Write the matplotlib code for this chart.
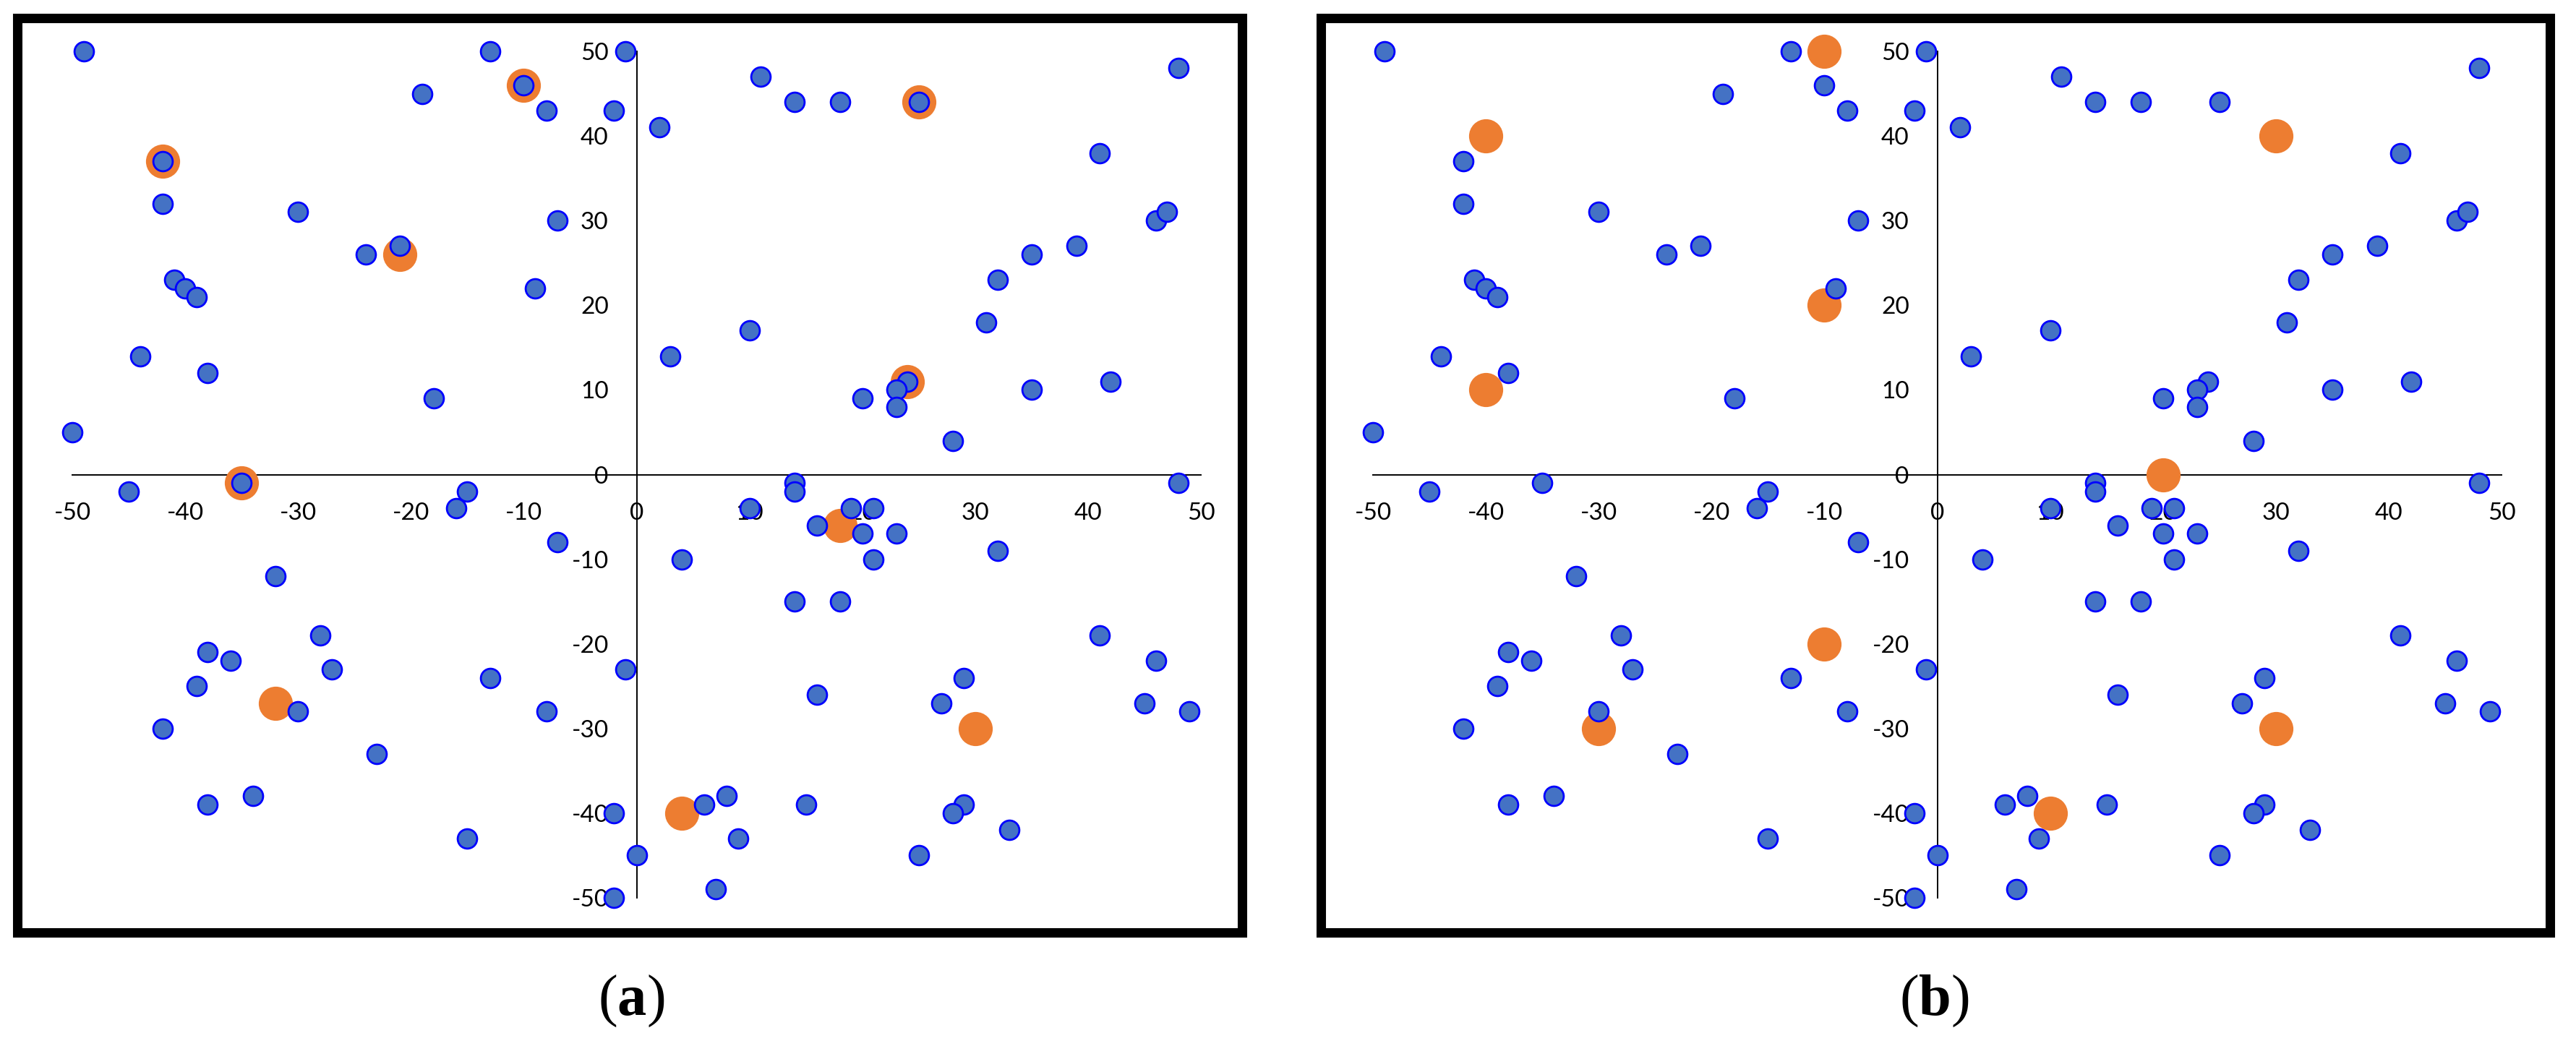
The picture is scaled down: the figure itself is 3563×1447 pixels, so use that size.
import matplotlib
matplotlib.use("Agg")
import matplotlib.pyplot as plt
from matplotlib.patches import Rectangle

# blue points (same set in both panels)
blue_x = [-49, -13, -1, -19, -10, -8, -2, -42, -42, -30, -7, -24, -21, -41, -40, -39, -9, -44, -38, -18, -50,
          -35, -45, -15, -16,
          11, 14, 18, 25, 48, 2, 41, 46, 47, 39, 35, 32, 31, 10, 3, 24, 23, 23, 20, 35, 42, 28, 14, 14, 48,
          -7, -32, -28, -38, -36, -27, -13, -1, -39, -30, -8, -42, -23, -34, -38, -2, -15, 0, -2,
          10, 19, 21, 16, 20, 23, 32, 4, 21, 14, 18, 41, 46, 29, 16, 27, 45, 49, 6, 8, 15, 29, 28, 33, 9, 25, 7]
blue_y = [50, 50, 50, 45, 46, 43, 43, 37, 32, 31, 30, 26, 27, 23, 22, 21, 22, 14, 12, 9, 5,
          -1, -2, -2, -4,
          47, 44, 44, 44, 48, 41, 38, 30, 31, 27, 26, 23, 18, 17, 14, 11, 10, 8, 9, 10, 11, 4, -1, -2, -1,
          -8, -12, -19, -21, -22, -23, -24, -23, -25, -28, -28, -30, -33, -38, -39, -40, -43, -45, -50,
          -4, -4, -4, -6, -7, -7, -9, -10, -10, -15, -15, -19, -22, -24, -26, -27, -27, -28, -39, -38, -39, -39, -40, -42, -43, -45, -49]

# orange points, panel (a) and panel (b)
orange_a_x = [-10, -42, -21, -35, 25, 24, 18, -32, 30, 4]
orange_a_y = [46, 37, 26, -1, 44, 11, -6, -27, -30, -40]
orange_b_x = [-10, -40, 30, -10, -40, 20, -10, -30, 30, 10]
orange_b_y = [50, 40, 40, 20, 10, 0, -20, -30, -30, -40]

tick_vals = [-50, -40, -30, -20, -10, 0, 10, 20, 30, 40, 50]
tick_labels = ["-50", "-40", "-30", "-20", "-10", "0", "10", "20", "30", "40", "50"]

plt.rcParams["mathtext.fontset"] = "custom"
plt.rcParams["mathtext.rm"] = "Liberation Serif"
plt.rcParams["mathtext.bf"] = "Liberation Serif:bold"

fig = plt.figure(figsize=(35.63, 14.47), dpi=100)


def draw_panel(ax_left, frame_left, frame_width, orange_x, orange_y, caption, cap_x):
    ax = fig.add_axes([ax_left, 0.14167, 0.43812, 0.80926])
    ax.set_xlim(-50, 50)
    ax.set_ylim(-50, 50)

    ax.plot(orange_x, orange_y, "o", ms=34, color="#ED7D31", mec="none",
            clip_on=False, zorder=3)
    ax.plot(blue_x, blue_y, "o", ms=19.3, mfc="#4472C4", mec="#0000FF",
            mew=2.0, clip_on=False, zorder=4)

    # axes crossing at the origin, excel style
    for side in ["top", "right"]:
        ax.spines[side].set_visible(False)
    for side in ["left", "bottom"]:
        ax.spines[side].set_position(("data", 0))
        ax.spines[side].set_linewidth(1.4)
    ax.set_xticks(tick_vals)
    ax.set_xticklabels(tick_labels)
    ax.set_yticks(tick_vals)
    ax.set_yticklabels(tick_labels)
    ax.tick_params(length=0, pad=28, labelsize=24)
    for lab in ax.get_xticklabels() + ax.get_yticklabels():
        lab.set_family("Lato")
    ax.patch.set_visible(False)

    # thick frame round the panel
    fig.patches.append(Rectangle((frame_left, 0.1088), frame_width, 0.8736,
                                 transform=fig.transFigure, fill=False,
                                 edgecolor="black", linewidth=9.4))
    fig.text(cap_x, 0.0428, caption, ha="center", va="center",
             fontsize=58, family="Liberation Serif")


draw_panel(0.02807, 0.006596, 0.47545, orange_a_x, orange_a_y, r"($\mathbf{a}$)", 0.2450)
draw_panel(0.53298, 0.51263, 0.47713, orange_b_x, orange_b_y, r"($\mathbf{b}$)", 0.7508)

fig.savefig("out.png", dpi=100)
